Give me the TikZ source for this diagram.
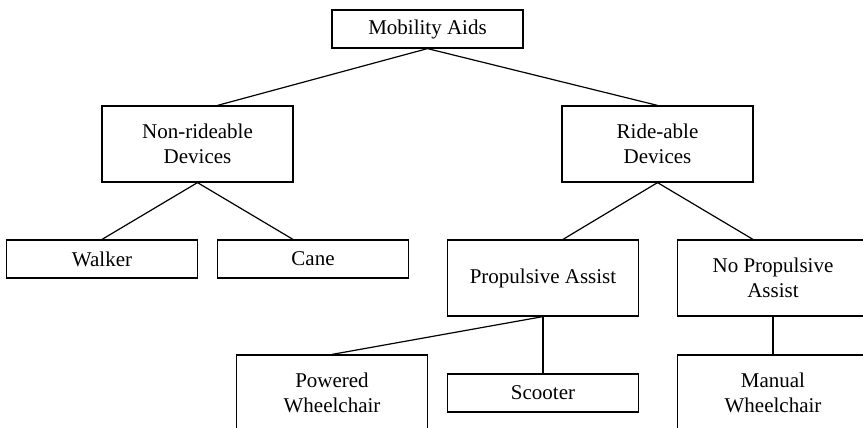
\documentclass[tikz,border=0pt]{standalone}
\usepackage{fontspec}
\setmainfont{Liberation Serif}
\usepackage{tikz}
\usetikzlibrary{positioning}
\tikzset{
  itembox/.style={draw=black,line width=.6pt,align=center,minimum width=95.5pt,minimum height=19pt,inner sep=2pt,font=\fontsize{10.5}{12.6}\selectfont},
  catbox/.style={itembox,minimum height=38pt},
  treeline/.style={line width=.6pt},
}

\begin{document}
\begin{tikzpicture}[x=0.5pt,y=-0.5pt]
			\useasboundingbox (0,0) rectangle (863,428);
			\node[itembox] (aids) at (427.5,29) {Mobility Aids};
			\node[catbox] (nonride) at (197.5,144) {Non-rideable\\Devices};
			\node[catbox] (ride) at (657.5,144) {Ride-able\\Devices};
			\node[itembox] (walker) at (102,259) {Walker};
			\node[itembox] (cane) at (313,259) {Cane};
			\node[catbox] (prop) at (543,278) {Propulsive Assist};
			\node[catbox] (noprop) at (773,278) {No Propulsive\\Assist};
			\node[catbox] (powered) at (332,393) {Powered\\Wheelchair};
			\node[itembox] (scooter) at (543,393) {Scooter};
			\node[catbox] (manual) at (773,393) {Manual\\Wheelchair};
			\draw[treeline] (aids.south)--([xshift=10pt]nonride.north);
			\draw[treeline] (aids.south)--(ride.north);
			\draw[treeline] (nonride.south)--(walker.north);
			\draw[treeline] (nonride.south)--([xshift=-10pt]cane.north);
			\draw[treeline] (ride.south)--([xshift=10pt]prop.north);
			\draw[treeline] (ride.south)--([xshift=-10pt]noprop.north);
			\draw[treeline] (prop.south)--(powered.north);
			\draw[treeline] (prop.south)--(scooter.north);
			\draw[treeline] (noprop.south)--(manual.north);
		\end{tikzpicture}
\end{document}
